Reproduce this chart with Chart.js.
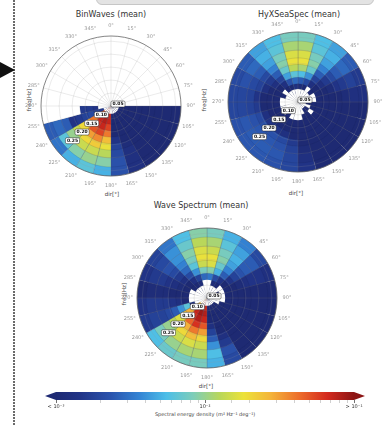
<!DOCTYPE html>
<html>
<head>
<meta charset="utf-8">
<script src="https://cdn.jsdelivr.net/npm/chart.js@4.4.1/dist/chart.umd.min.js"></script>
<style>
  body { margin: 0; width: 385px; height: 425px; background: #fff; position: relative; overflow: hidden; font-family: 'DejaVu Sans', sans-serif; }
  .abs { position: absolute; }
  .title { position: absolute; font-size: 8px; color: #333; transform: translate(-50%, -50%); white-space: nowrap; }
  .axis { position: absolute; font-size: 5.5px; color: #444; transform: translate(-50%, -50%); white-space: nowrap; }
  .axis.v { transform: translate(-50%, -50%) rotate(-90deg); }
  canvas { position: absolute; }
</style>
</head>
<body>
<div class="abs" style="left:96px;top:-12px;width:276px;height:15px;background:#e3e3e3;border:1px solid #c6c6c6;border-radius:6px"></div>
<div class="abs" style="left:13px;top:0;width:2px;height:425px;background:repeating-linear-gradient(to bottom,#6a6a6a 0 2px,transparent 2px 3px)"></div>
<div class="abs" style="left:0;top:62px;width:0;height:0;border-left:15px solid #111;border-top:8px solid transparent;border-bottom:8px solid transparent"></div>

<div class="title" style="left:111px;top:14px">BinWaves (mean)</div>
<div class="title" style="left:299px;top:14px">HyXSeaSpec (mean)</div>
<div class="title" style="left:201px;top:205px">Wave Spectrum (mean)</div>

<div class="axis v" style="left:29px;top:100px">freq[Hz]</div>
<div class="axis v" style="left:204px;top:100px">freq[Hz]</div>
<div class="axis v" style="left:124px;top:294px">freq[Hz]</div>
<div class="axis" style="left:112px;top:194px">dir[°]</div>
<div class="axis" style="left:296px;top:193px">dir[°]</div>
<div class="axis" style="left:206px;top:386px">dir[°]</div>
<div class="axis" style="left:205px;top:414px;font-size:5px">Spectral energy density (m² Hz⁻¹ deg⁻¹)</div>

<canvas id="binwaves" width="172" height="172" style="left:25px;top:20px"></canvas>
<canvas id="hyxseaspec" width="172" height="172" style="left:212px;top:16px"></canvas>
<canvas id="spectrum" width="172" height="172" style="left:121px;top:212px"></canvas>
<canvas id="cbar" width="385" height="45" style="left:0;top:380px"></canvas>

<script>
const N = null;

// direction bins (15 deg each, clockwise from north)
const dirLabels = ['0°', '15°', '30°', '45°', '60°', '75°', '90°', '105°', '120°', '135°', '150°', '165°',
  '180°', '195°', '210°', '225°', '240°', '255°', '270°', '285°', '300°', '315°', '330°', '345°'];

// frequency ring edges [Hz], radial grid and labelled rings
const freqEdges = [0.05, 0.08, 0.10, 0.12, 0.145, 0.17, 0.195, 0.22, 0.25, 0.285, 0.32];
const freqGrid = [0.05, 0.10, 0.15, 0.20, 0.25, 0.30, 0.32];
const freqLabels = [0.05, 0.10, 0.15, 0.20, 0.25];

// log10 of spectral energy density, one row per frequency ring (inner -> outer), 24 directions each
const binWaves = [
  [N, N, N, N, N, N, N, N, N, N, N, N, N, N, N, N, N, N, N, N, N, N, N, N],
  [N, N, N, N, N, N, -3, -3, -3, -3, -3, -3, -1.15, -1.05, -1.1, -1.3, -2.8, N, N, N, N, N, N, N],
  [N, N, N, N, N, N, -3, -3, -3, -3, -3, -3, -1.15, -1.1, -1.15, -1.3, -2.75, -2.85, N, N, N, N, N, N],
  [N, N, N, N, N, N, -3, -3, -3, -3, -3, -3, -1.25, -1.15, -1.2, -1.4, -2.7, -2.8, N, N, N, N, N, N],
  [N, N, N, N, N, N, -3, -3, -3, -3, -3, -3, -1.4, -1.25, -1.3, -1.55, -2.75, -2.8, N, N, N, N, N, N],
  [N, N, N, N, N, N, -3, -3, -3, -3, -3, -2.85, -1.6, -1.45, -1.5, -1.7, -2.8, N, N, N, N, N, N, N],
  [N, N, N, N, N, N, -3, -3, -3, -3, -2.95, -2.75, -1.75, -1.65, -1.7, -1.85, -2.85, N, N, N, N, N, N, N],
  [N, N, N, N, N, N, -3, -3, -3, -3, -2.9, -2.7, -1.9, -1.85, -1.85, -2.0, -2.6, N, N, N, N, N, N, N],
  [N, N, N, N, N, N, -3, -3, -3, -3, -2.9, -2.65, -2.05, -2.0, -2.05, -2.2, -2.55, N, N, N, N, N, N, N],
  [N, N, N, N, N, N, -3, -3, -3, -3, -2.9, -2.65, -2.3, -2.2, -2.3, -2.5, -2.6, N, N, N, N, N, N, N],
];

const hyxSeaSpec = [
  [N, N, N, N, N, N, N, N, N, N, N, N, N, N, N, N, N, N, N, N, N, N, N, N],
  [N, N, N, N, N, -3, -3, N, -3, -3, N, N, N, N, N, N, N, N, N, N, N, N, N, N],
  [-2.95, -3, N, -3, N, N, -3, -3, N, -3, -3, N, N, N, -3, N, N, N, N, -3, N, -3, -3, -2.9],
  [-2.6, -2.7, -2.9, -3, -3, -3, -3, -3, -3, -3, -3, -3, -3, -3, -3, -3, -3, -3, -3, -3, -3, -2.9, -2.65, -2.55],
  [-2.25, -2.4, -2.75, -2.9, -3, -3, -3, -3, -3, -3, -3, -3, -3, -3, -3, -3, -3, -3, -3, -3, -2.9, -2.75, -2.35, -2.2],
  [-1.95, -2.15, -2.6, -2.8, -2.95, -3, -3, -3, -3, -3, -3, -3, -3, -2.9, -2.85, -2.85, -2.9, -3, -3, -2.9, -2.8, -2.6, -2.15, -1.9],
  [-1.75, -2.05, -2.45, -2.7, -2.85, -3, -3, -3, -3, -3, -3, -3, -2.8, -2.7, -2.65, -2.65, -2.7, -2.8, -2.85, -2.75, -2.7, -2.45, -2.05, -1.75],
  [-1.8, -2.1, -2.35, -2.6, -2.8, -2.95, -3, -3, -3, -3, -3, -2.95, -2.75, -2.65, -2.62, -2.62, -2.65, -2.75, -2.75, -2.7, -2.6, -2.35, -2.1, -1.8],
  [-1.95, -2.2, -2.3, -2.55, -2.75, -2.9, -3, -3, -3, -3, -3, -2.9, -2.72, -2.62, -2.6, -2.6, -2.62, -2.72, -2.72, -2.65, -2.55, -2.3, -2.2, -1.95],
  [-2.1, -2.25, -2.35, -2.6, -2.8, -2.9, -3, -3, -3, -3, -3, -2.85, -2.72, -2.65, -2.62, -2.62, -2.65, -2.72, -2.72, -2.7, -2.6, -2.35, -2.25, -2.1],
];

const waveSpectrum = [
  [N, N, N, N, N, N, N, N, N, N, N, N, N, N, N, N, N, N, N, N, N, N, N, N],
  [N, N, N, N, -3, N, N, N, -3, -3, -3, -3, -1.15, -1.05, -1.2, -1.6, N, N, N, N, N, N, N, N],
  [N, -2.95, -3, N, N, N, N, -3, -3, -3, -3, -3, -1.1, -1.05, -1.15, -1.5, -2.9, N, N, N, -3, -3, -2.95, N],
  [-2.5, -2.7, -2.85, -3, -3, -3, -3, -3, -3, -3, -3, -3, -1.15, -1.1, -1.2, -1.55, -2.2, -3, -3, -3, -3, -2.9, -2.75, -2.55],
  [-2.05, -2.3, -2.6, -2.85, -3, -3, -3, -3, -3, -3, -3, -2.9, -1.3, -1.2, -1.35, -1.65, -2.4, -2.9, -3, -2.95, -2.9, -2.7, -2.4, -2.1],
  [-1.8, -2.15, -2.45, -2.75, -2.95, -3, -3, -3, -3, -3, -3, -2.75, -1.5, -1.4, -1.55, -1.8, -2.6, -2.85, -3, -2.9, -2.8, -2.55, -2.2, -1.85],
  [-1.75, -2.05, -2.35, -2.65, -2.9, -3, -3, -3, -3, -3, -2.9, -2.6, -1.7, -1.6, -1.7, -1.9, -2.7, -2.8, -2.95, -2.85, -2.7, -2.45, -2.1, -1.75],
  [-1.85, -2.1, -2.3, -2.6, -2.85, -3, -3, -3, -3, -3, -2.8, -2.4, -1.85, -1.8, -1.85, -2.0, -2.75, -2.8, -2.95, -2.8, -2.65, -2.4, -2.05, -1.8],
  [-1.95, -2.2, -2.35, -2.6, -2.85, -3, -3, -3, -3, -3, -2.65, -2.25, -1.95, -1.95, -2.0, -2.1, -2.75, -2.8, -2.95, -2.8, -2.7, -2.4, -2.15, -1.9],
  [-2.1, -2.3, -2.45, -2.7, -2.9, -3, -3, -3, -3, -3, -2.7, -2.3, -2.1, -2.1, -2.15, -2.25, -2.8, -2.85, -3, -2.85, -2.75, -2.5, -2.25, -2.05],
];

// colour bar range and labels
const cbarRange = [1e-3, 1e-1];
const cbarLabels = ['< 10⁻³', '10⁻²', '> 10⁻¹'];

const cmap = [
  [0.00, [30, 42, 115]],
  [0.08, [33, 52, 135]],
  [0.18, [42, 82, 172]],
  [0.28, [52, 132, 212]],
  [0.37, [76, 190, 232]],
  [0.46, [125, 205, 185]],
  [0.55, [185, 215, 90]],
  [0.63, [236, 226, 58]],
  [0.72, [244, 180, 58]],
  [0.82, [236, 106, 42]],
  [0.91, [212, 42, 30]],
  [1.00, [140, 20, 20]],
];

function colorAt(t) {
  t = Math.max(0, Math.min(1, t));
  for (let i = 1; i < cmap.length; i++) {
    if (t <= cmap[i][0]) {
      const [t0, c0] = cmap[i - 1];
      const [t1, c1] = cmap[i];
      const f = (t - t0) / (t1 - t0);
      const c = c0.map((v, k) => Math.round(v + (c1[k] - v) * f));
      return `rgb(${c[0]},${c[1]},${c[2]})`;
    }
  }
  return 'rgb(140,20,20)';
}

const logMin = Math.log10(cbarRange[0]);
const logMax = Math.log10(cbarRange[1]);
const cellColor = (e) => (e === null ? '#ffffff' : colorAt((e - logMin) / (logMax - logMin)));

const polarText = {
  id: 'polarText',
  afterDraw(chart) {
    const r = chart.scales.r;
    const ctx = chart.ctx;
    ctx.save();
    ctx.textAlign = 'center';
    ctx.textBaseline = 'middle';
    ctx.font = '5px "DejaVu Sans"';
    ctx.fillStyle = '#999';
    chart.data.labels.forEach((lab, i) => {
      const p = r.getPointPosition(i, r.drawingArea + 10);
      ctx.fillText(lab, p.x, p.y);
    });
    ctx.font = 'bold 4.5px "DejaVu Sans"';
    freqLabels.forEach((v) => {
      const d = r.getDistanceFromCenterForValue(v);
      let p = r.getPointPosition(15.2, d);
      if (d < 4) p = { x: p.x + 7, y: p.y - 2 };
      const t = v.toFixed(2);
      const w = ctx.measureText(t).width + 3;
      ctx.fillStyle = '#fff';
      ctx.strokeStyle = '#222';
      ctx.lineWidth = 0.5;
      ctx.beginPath();
      ctx.roundRect(p.x - w / 2, p.y - 3, w, 6, 1.5);
      ctx.fill();
      ctx.stroke();
      ctx.fillStyle = '#111';
      ctx.fillText(t, p.x, p.y + 0.3);
    });
    ctx.restore();
  },
};

function polarChart(id, grid) {
  // one dataset per ring, inner ring first so it is drawn on top
  const datasets = grid.map((row, k) => ({
    data: row.map(() => freqEdges[k + 1]),
    backgroundColor: row.map(cellColor),
    borderColor: row.map((e) => (e === null ? 'rgba(0,0,0,0)' : 'rgba(15,25,70,0.3)')),
    borderWidth: 0.4,
  }));
  return new Chart(document.getElementById(id), {
    type: 'polarArea',
    data: { labels: dirLabels, datasets },
    options: {
      responsive: false,
      animation: false,
      layout: { padding: 16 },
      plugins: { legend: { display: false }, tooltip: { enabled: false } },
      scales: {
        r: {
          min: freqEdges[0],
          max: freqEdges[freqEdges.length - 1],
          startAngle: 0,
          afterBuildTicks: (scale) => {
            scale.ticks = freqGrid.map((v) => ({ value: v }));
          },
          ticks: { display: false },
          pointLabels: { display: false },
          grid: {
            z: 1,
            circular: true,
            color: (c) => (c.tick && c.tick.value === 0.32 ? '#666' : 'rgba(150,150,150,0.38)'),
            lineWidth: (c) => (c.tick && c.tick.value === 0.32 ? 0.8 : 0.5),
          },
          angleLines: { display: true, color: 'rgba(150,150,150,0.38)', lineWidth: 0.5 },
        },
      },
    },
    plugins: [polarText],
  });
}

polarChart('binwaves', binWaves);
polarChart('hyxseaspec', hyxSeaSpec);
polarChart('spectrum', waveSpectrum);

// colour bar
const cbarEnds = {
  id: 'cbarEnds',
  afterDatasetsDraw(chart) {
    const bar = chart.getDatasetMeta(0).data[0];
    const ctx = chart.ctx;
    const h = bar.height / 2;
    ctx.save();
    ctx.fillStyle = colorAt(0);
    ctx.beginPath();
    ctx.moveTo(bar.base, bar.y - h);
    ctx.lineTo(bar.base - 11, bar.y);
    ctx.lineTo(bar.base, bar.y + h);
    ctx.fill();
    ctx.fillStyle = colorAt(1);
    ctx.beginPath();
    ctx.moveTo(bar.x, bar.y - h);
    ctx.lineTo(bar.x + 11, bar.y);
    ctx.lineTo(bar.x, bar.y + h);
    ctx.fill();
    ctx.restore();
  },
};

const isDecade = (v) => Math.abs(Math.log10(v) - Math.round(Math.log10(v))) < 1e-6;

new Chart(document.getElementById('cbar'), {
  type: 'bar',
  data: {
    labels: [''],
    datasets: [{
      data: [cbarRange],
      borderWidth: 0,
      barPercentage: 1,
      categoryPercentage: 1,
      backgroundColor: (c) => {
        const area = c.chart.chartArea;
        if (!area) return colorAt(0.5);
        const g = c.chart.ctx.createLinearGradient(area.left, 0, area.right, 0);
        cmap.forEach(([t, col]) => g.addColorStop(t, `rgb(${col[0]},${col[1]},${col[2]})`));
        return g;
      },
    }],
  },
  options: {
    indexAxis: 'y',
    responsive: false,
    animation: false,
    layout: { padding: { left: 56, right: 31, top: 12, bottom: 17 } },
    plugins: { legend: { display: false }, tooltip: { enabled: false } },
    scales: {
      y: { display: false },
      x: {
        type: 'logarithmic',
        min: cbarRange[0],
        max: cbarRange[1],
        border: { display: false },
        grid: {
          drawOnChartArea: false,
          tickLength: 3,
          color: (c) => (c.tick && isDecade(c.tick.value) ? '#333' : '#888'),
          lineWidth: (c) => (c.tick && isDecade(c.tick.value) ? 0.7 : 0.4),
        },
        ticks: {
          autoSkip: false,
          maxRotation: 0,
          padding: 1,
          color: '#333',
          font: { size: 5, family: 'DejaVu Sans' },
          callback: (v) => (isDecade(v) ? cbarLabels[Math.round(Math.log10(v)) - logMin] : ''),
        },
      },
    },
  },
  plugins: [cbarEnds],
});
</script>
</body>
</html>
